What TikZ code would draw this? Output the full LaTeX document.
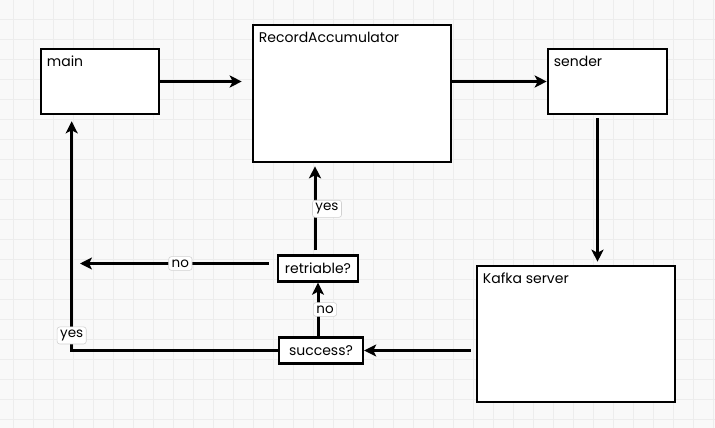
\documentclass[tikz,border=0pt]{standalone}
\usepackage{fontspec}
\setmainfont{Poppins}
\usepackage{tikz}
\usetikzlibrary{arrows.meta}
\definecolor{paper}{HTML}{F9F9F9}
\definecolor{gridcol}{HTML}{EDEDED}
\newcommand\block[5]{\node[block,minimum width=#4,minimum height=#5] (#1) at (#2) {}; \node[blabel] at ([xshift=7pt,yshift=-19pt]#1.north west) {#3};}
\newcommand\test[3]{\node[test,minimum width=#3] (#1) at (#2) {#1?};}

\begin{document}
\begin{tikzpicture}[x=1pt,y=-1pt]
\tikzstyle{block}=[draw,line width=2.6pt,fill=white,anchor=center,inner sep=0pt]
\tikzstyle{blabel}=[anchor=base west,inner sep=0pt,font=\fontsize{14}{16}\selectfont]
\tikzstyle{test}=[draw,line width=2.4pt,fill=white,minimum height=26pt,inner sep=0pt,font=\fontsize{14}{16}\selectfont]
\tikzstyle{flow}=[line width=3pt,-{Stealth[length=12pt,width=12pt,inset=3pt]}]
\tikzstyle{answer}=[fill=white,draw=black!18,line width=0.6pt,rounded corners=2.5pt,inner sep=3pt,font=\fontsize{13.5}{15}\selectfont]
\useasboundingbox (0,0) rectangle (715,428);
\fill[paper] (0,0) rectangle (715,428);
\begin{scope}
\clip (0,0) rectangle (715,428);
\draw[gridcol,line width=1.4pt,xshift=13.3pt,yshift=0.7pt,step=20pt] (-13.3,-0.7) grid (701.7,428.7);
\end{scope}
\block{main}{100,81.5}{main}{118pt}{65pt}
\block{ra}{352,93.5}{RecordAccumulator}{198pt}{137pt}
\block{sender}{607.5,81.5}{sender}{119pt}{65pt}
\block{kafka}{576,334}{Kafka server}{198pt}{136pt}
\test{retriable}{318,268.5}{80pt}
\test{success}{321,350.5}{84pt}
\coordinate (noend) at (80,263.5);
\draw[flow,shorten >=10pt] (main) -- (main -| ra.west);
\draw[flow] (ra.east |- sender) -- (sender.west);
\draw[flow,shorten <=3pt,shorten >=3pt] ([xshift=-10pt]sender.south) -- ([xshift=-10pt]sender.south |- kafka.north);
\draw[flow,shorten <=5pt] (kafka.west |- success) -- (success.east);
\draw[flow] (success.north -| retriable) -- node[answer,xshift=7pt] {no} (retriable.south);
\draw[flow,shorten <=4pt,shorten >=3pt] ([xshift=-3pt]retriable.north) -- node[answer,xshift=12pt] {yes} ([xshift=-3pt]retriable.north |- ra.south);
\draw[flow,shorten <=8pt] ([yshift=5pt]retriable.west) -- node[answer,pos=0.49] {no} (noend);
\draw[flow,shorten >=6pt] (success.west) -| node[answer,pos=0.532] {yes} ([xshift=32pt]main.south west);
\end{tikzpicture}
\end{document}
